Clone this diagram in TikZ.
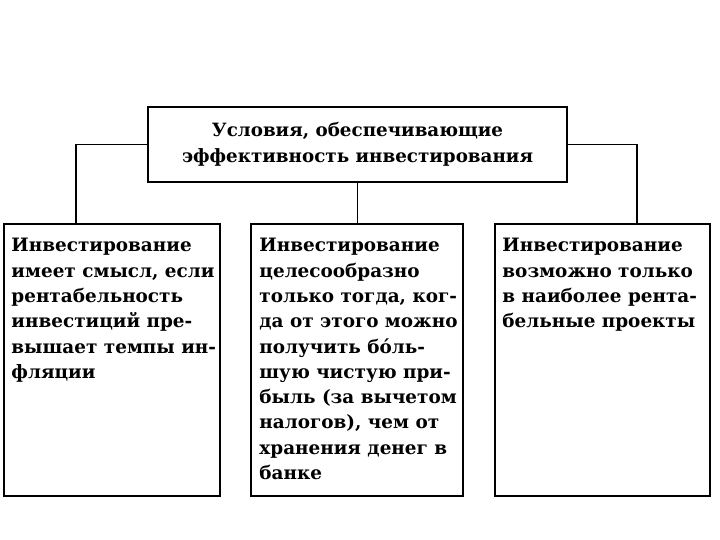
\documentclass[tikz,border=0pt]{standalone}
\usepackage{fontspec}
\setmainfont{DejaVu Serif}
\begin{document}
\begin{tikzpicture}[x=1pt,y=-1pt,
  cell/.style={draw=black, line width=1.5pt, inner sep=0pt},
  txt/.style={align=left, inner sep=0pt, anchor=north west,
    font=\bfseries\fontsize{18.4}{25.3}\selectfont},
  link/.style={draw=black, line width=1.6pt}]
\useasboundingbox (0,0) rectangle (720,540);
% heading
\node[cell, minimum width=419, minimum height=75, align=center,
  font=\bfseries\fontsize{18.3}{26}\selectfont] (head) at (357.5,144.5)
  {Условия, обеспечивающие\\эффективность инвестирования};
% three conditions
\node[cell, minimum width=216, minimum height=272] (left) at (112,360) {};
\node[cell, minimum width=212, minimum height=272] (mid) at (357,360) {};
\node[cell, minimum width=215, minimum height=272] (right) at (602.5,360) {};
\node[txt] (lefttxt) at ([shift={(8,15)}]left.north west)
  {Инвестирование\\имеет смысл, если\\рентабельность\\инвестиций пре-\\вышает темпы ин-\\фляции};
\node[txt] (midtxt) at ([shift={(9,15)}]mid.north west)
  {Инвестирование\\целесообразно\\только тогда, ког-\\да от этого можно\\получить бо́ль-\\шую чистую при-\\быль (за вычетом\\налогов), чем от\\хранения денег в\\банке};
\node[txt] (righttxt) at ([shift={(8,15)}]right.north west)
  {Инвестирование\\возможно только\\в наиболее рента-\\бельные проекты};
% connectors
\draw[link] (head.west) -| ([xshift=73]left.north west);
\draw[link] (head.south) -- (head.south |- mid.north);
\draw[link] (head.east) -| ([xshift=143]right.north west);
\end{tikzpicture}
\end{document}
